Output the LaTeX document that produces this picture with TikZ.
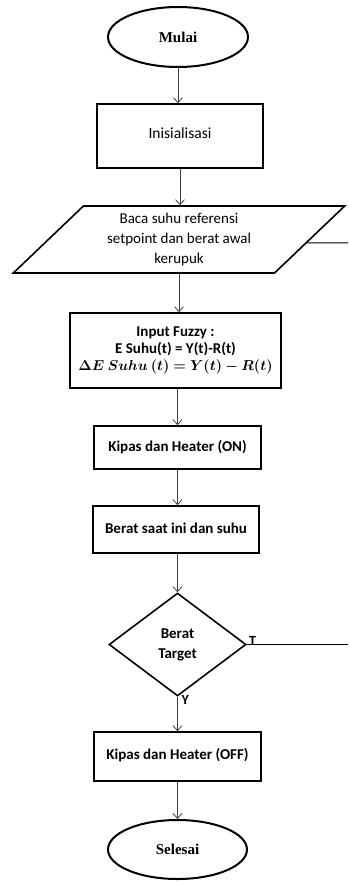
\documentclass[tikz,border=0pt]{standalone}
\usepackage{bm}
\usepackage{fontspec}
\setmainfont{Carlito}
\newfontfamily\serifface{Liberation Serif}
\usetikzlibrary{shapes.geometric,arrows.meta,calc}
\begin{document}
\begin{tikzpicture}[x=1pt,y=-1pt,
  box/.style={draw,line width=1.6pt,inner sep=0pt,align=center,font=\fontsize{15}{17}\selectfont\bfseries},
  term/.style={draw,ellipse,line width=2pt,minimum width=140pt,minimum height=60pt,inner sep=0pt,font=\serifface\fontsize{15}{18}\selectfont\bfseries},
  flow/.style={draw=black!75,line width=0.8pt,-{Straight Barb[length=5pt,width=9pt]}},
  plain/.style={draw=black,line width=1pt},
  lbl/.style={inner sep=0pt,font=\fontsize{14}{16}\selectfont\bfseries}]
\useasboundingbox (0,0) rectangle (348,882);
\node[term] (start) at (178,37) {Mulai};
\node[box,minimum width=166pt,minimum height=64pt,font=\fontsize{15.5}{17}\selectfont] (init) at (180,136) {\raisebox{6pt}{Inisialisasi}};
\node[draw,trapezium,trapezium stretches=true,trapezium left angle=45,trapezium right angle=135,
  minimum width=332pt,minimum height=67pt,inner sep=0pt,line width=1.6pt,align=center,
  font=\fontsize{15}{20}\selectfont] (read) at (179,239.5) {Baca suhu referensi\\setpoint dan berat awal\\kerupuk};
\node[box,minimum width=211pt,minimum height=75pt] (fuzzy) at (175.5,350.5)
  {Input Fuzzy :\\E Suhu(t) = Y(t)-R(t)\\{\fontsize{14.5}{17}\selectfont$\bm{\Delta E\ Suhu\ (t) = Y(t) - R(t)}$}};
\node[box,minimum width=167pt,minimum height=43pt] (on) at (177.5,447.5) {Kipas dan Heater (ON)};
\node[box,minimum width=166pt,minimum height=47pt] (weigh) at (176,529.5) {\raisebox{2pt}{Berat saat ini dan suhu}};
\node[draw,diamond,aspect=1.33,minimum width=137pt,minimum height=103pt,inner sep=0pt,line width=1.6pt,align=center,
  font=\fontsize{15}{20}\selectfont\bfseries] (dec) at (177.5,644.5) {Berat\\Target};
\node[box,minimum width=167pt,minimum height=49pt] (off) at (177.5,756.5) {\raisebox{6pt}{Kipas dan Heater (OFF)}};
\node[term,minimum width=139pt,minimum height=59pt] (stop) at (177.5,849.5) {Selesai};
\coordinate (r1) at (348,243);
\coordinate (r2) at (348,642);
\draw[flow] (start.south) -- (start.south |- init.north);
\draw[flow] (init.south) -- (init.south |- read.north);
\draw[flow] (read.south) -- (read.south |- fuzzy.north);
\draw[flow] (on.north |- fuzzy.south) -- (on.north);
\draw[flow] (on.south) -- (on.south |- weigh.north);
\draw[flow] (dec.north |- weigh.south) -- (dec.north);
\draw[flow] (dec.south) -- (dec.south |- off.north);
\draw[flow] (off.south) -- (off.south |- stop.north);
\draw[plain] ($(read.top right corner)!0.55!(read.bottom right corner)$) -- (r1);
\draw[plain,line width=1.3pt] (dec.east) -- (dec.east -| r2);
\node[lbl,anchor=south west] (tl) at ([xshift=2pt,yshift=-1pt]dec.east) {T};
\node[lbl,anchor=north west] (yl) at ([xshift=4pt,yshift=2pt]dec.south) {Y};
\end{tikzpicture}
\end{document}
